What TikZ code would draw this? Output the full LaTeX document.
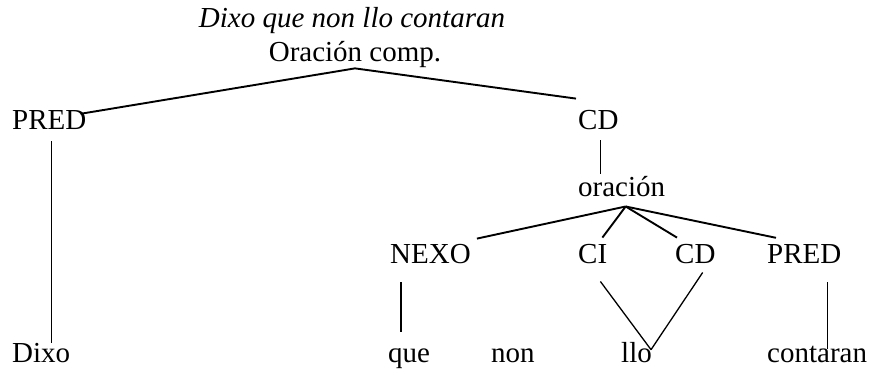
\documentclass[tikz,border=0pt]{standalone}
\usepackage{fontspec}
\setmainfont{Liberation Serif}
\usetikzlibrary{positioning, calc}
\tikzset{word/.style = {
  % Text:
  inner sep = 0pt,
  anchor = base west,
  font = \fontsize{29}{35}\selectfont
  }}
\tikzset{headline/.style = {
  % Text:
  word,
  anchor = base,
  font = \fontsize{29}{35}\selectfont\itshape
  }}
\tikzset{branch/.style = {
  draw = black,
  line width = 1.9pt
  }}
\tikzset{stem/.style = {
  draw = black,
  line width = 1.3pt
  }}

\begin{document}
\begin{tikzpicture}[x=1pt, y=-1pt]
  \useasboundingbox (0,0) rectangle (870,371);
  %
  % Specification of nodes
  %
  \node (title) [headline] at (352,28) {Dixo que non llo contaran};
  \node (root) [word, anchor=base] at (355,62) {Oración comp.};

  \node (predA) [word] at (12,130) {PRED};
  \node (cdA) [word] at (578,130) {CD};
  \node (orac) [word] at (578,197) {oración};

  \node (nexo) [word] at (390,264) {NEXO};
  \node (ci) [word] at (578,264) {CI};
  \node (cdB) [word] at (675,264) {CD};
  \node (predB) [word] at (767,264) {PRED};

  \node (dixo) [word] at (12,362) {Dixo};
  \node (que) [word] at (388,362) {que};
  \node (non) [word] at (491,362) {non};
  \node (llo) [word] at (621,362) {llo};
  \node (contaran) [word] at (767,362) {contaran};

  \coordinate (oracfoot) at ($(orac.south)+(4,9)$);
  \coordinate (llotop) at ($(llo.north east)+(-1,8)$);

  %
  % Specification of lines
  %
  \draw [branch] (root.south) -- ($(predA.north east)+(-6,3)$);
  \draw [branch] (root.south) -- ($(cdA.north west)+(-2,-12)$);
  \draw [stem] ($(cdA.south)+(2,10)$) -- ($(cdA.south |- orac.north)+(2,-3)$);

  \draw [branch] (oracfoot) -- ($(nexo.north east)+(6,-6)$);
  \draw [branch] (oracfoot) -- ($(ci.north east)+(-5,-7)$);
  \draw [branch] (oracfoot) -- ($(cdB.north west)+(2,-7)$);
  \draw [branch] (oracfoot) -- ($(predB.north west)+(9,-7)$);

  \draw [stem] ($(predA.south)+(2,11)$) -- ($(predA.south |- dixo.north)+(2,0)$);
  \draw [stem] ($(nexo.south west)+(11,18)$) -- ($(nexo.south west |- que.north)+(11,-16)$);
  \draw [stem] ($(ci.south east)+(-7,17)$) -- (llotop);
  \draw [stem] ($(cdB.south east)+(-13,8)$) -- (llotop);
  \draw [stem] ($(predB.south east)+(-14,18)$) -- ($(predB.south east |- contaran.north)+(-14,4)$);
\end{tikzpicture}
\end{document}
